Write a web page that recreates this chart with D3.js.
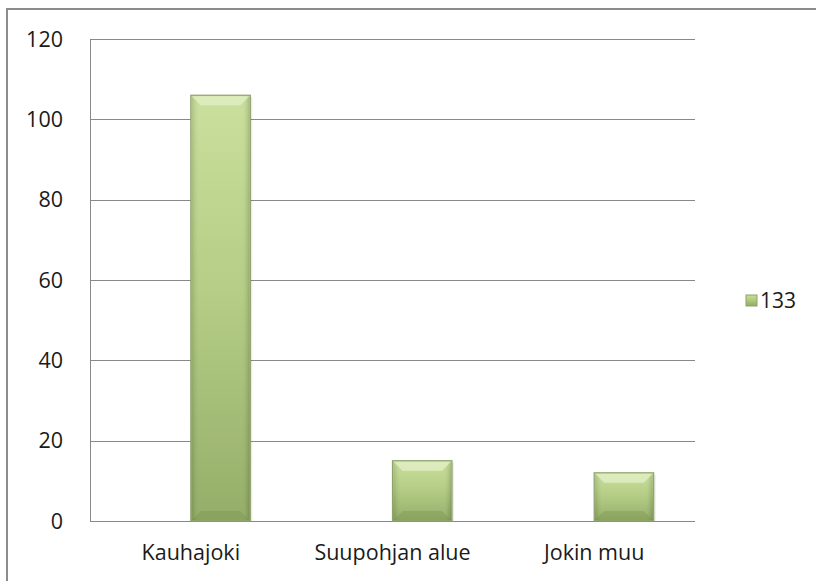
<!DOCTYPE html>
<html>
<head>
<meta charset="utf-8">
<script src="https://cdn.jsdelivr.net/npm/d3@7"></script>
<style>
  body { margin: 0; background: #ffffff; }
  text { font-family: "Open Sans", "Noto Sans", sans-serif; fill: #1a1a1a; }
</style>
</head>
<body>
<script>
// chart data
var categories = ["Kauhajoki", "Suupohjan alue", "Jokin muu"];
var seriesName = "133";
var seriesValues = [106, 15, 12];
var yTicks = [0, 20, 40, 60, 80, 100, 120];

// svg variables
var width = 816;
var height = 581;
var plotLeft = 90;
var plotRight = 695;
var plotTop = 39;
var plotBottom = 521;

var svg = d3.select("body")
  .append("svg")
  .attr("width", width)
  .attr("height", height);

// gradient for the bars
var defs = svg.append("defs");
var grad = defs.append("linearGradient")
  .attr("id", "barGrad")
  .attr("x1", 0).attr("y1", 0)
  .attr("x2", 0).attr("y2", 1);
grad.append("stop").attr("offset", "0%").attr("stop-color", "#c7de98");
grad.append("stop").attr("offset", "45%").attr("stop-color", "#b2cb80");
grad.append("stop").attr("offset", "100%").attr("stop-color", "#8faa62");

var sideGrad = defs.append("linearGradient")
  .attr("id", "sideGrad")
  .attr("x1", 0).attr("y1", 0)
  .attr("x2", 1).attr("y2", 0);
sideGrad.append("stop").attr("offset", "0%").attr("stop-color", "#000").attr("stop-opacity", 0.12);
sideGrad.append("stop").attr("offset", "12%").attr("stop-color", "#fff").attr("stop-opacity", 0.05);
sideGrad.append("stop").attr("offset", "88%").attr("stop-color", "#fff").attr("stop-opacity", 0.05);
sideGrad.append("stop").attr("offset", "100%").attr("stop-color", "#000").attr("stop-opacity", 0.15);

// outer chart border
svg.append("rect")
  .attr("x", 7)
  .attr("y", 9)
  .attr("width", width + 20)
  .attr("height", height + 20)
  .attr("fill", "none")
  .attr("stroke", "#8c8c8c")
  .attr("stroke-width", 2);

// scales
var yScale = d3.scaleLinear()
  .domain([0, 120])
  .range([plotBottom, plotTop]);
var xScale = d3.scaleBand()
  .domain(categories)
  .range([plotLeft, plotRight]);

// gridlines
svg.append("g")
  .selectAll("line")
  .data(yTicks)
  .enter()
  .append("line")
  .attr("x1", plotLeft)
  .attr("x2", plotRight)
  .attr("y1", function(d) { return Math.round(yScale(d)) + 0.5; })
  .attr("y2", function(d) { return Math.round(yScale(d)) + 0.5; })
  .attr("stroke", "#888888")
  .attr("stroke-width", 1);

// y axis line
svg.append("line")
  .attr("x1", plotLeft + 0.5)
  .attr("x2", plotLeft + 0.5)
  .attr("y1", plotTop)
  .attr("y2", plotBottom)
  .attr("stroke", "#888888");

// y tick labels
svg.append("g")
  .selectAll("text")
  .data(yTicks)
  .enter()
  .append("text")
  .attr("x", 63)
  .attr("y", function(d) { return yScale(d); })
  .attr("dy", "0.35em")
  .attr("text-anchor", "end")
  .style("font-size", "21.5px")
  .text(function(d) { return d; });

// x labels
svg.append("g")
  .selectAll("text")
  .data(categories)
  .enter()
  .append("text")
  .attr("x", function(d) { return xScale(d) + xScale.bandwidth() / 2; })
  .attr("y", 560)
  .attr("text-anchor", "middle")
  .style("font-size", "21.5px")
  .text(function(d) { return d; });

// bars sit right of the band centre (second slot of the cluster)
var barWidth = xScale.bandwidth() * 0.295;
var bars = svg.append("g")
  .selectAll("g")
  .data(seriesValues)
  .enter()
  .append("g");

function barX(d, i) { return xScale(categories[i]) + xScale.bandwidth() / 2; }

// shadow
bars.append("rect")
  .attr("x", function(d, i) { return barX(d, i) + 2; })
  .attr("y", function(d) { return yScale(d) + 2; })
  .attr("width", barWidth)
  .attr("height", function(d) { return plotBottom - yScale(d) - 2; })
  .attr("fill", "#000")
  .attr("opacity", 0.08);

bars.append("rect")
  .attr("x", function(d, i) { return barX(d, i); })
  .attr("y", function(d) { return yScale(d); })
  .attr("width", barWidth)
  .attr("height", function(d) { return plotBottom - yScale(d); })
  .attr("fill", "url(#barGrad)")
  .attr("stroke", "#8ea26c")
  .attr("stroke-width", 1.2);

bars.append("rect")
  .attr("x", function(d, i) { return barX(d, i) + 1; })
  .attr("y", function(d) { return yScale(d) + 1; })
  .attr("width", barWidth - 2)
  .attr("height", function(d) { return plotBottom - yScale(d) - 2; })
  .attr("fill", "url(#sideGrad)");

// top bevel
var bevel = 9;
bars.append("polygon")
  .attr("points", function(d, i) {
    var x0 = barX(d, i) + 1, x1 = barX(d, i) + barWidth - 1, y0 = yScale(d) + 1;
    return [[x0, y0], [x1, y0], [x1 - bevel, y0 + bevel], [x0 + bevel, y0 + bevel]].join(" ");
  })
  .attr("fill", "#e4f0c8")
  .attr("opacity", 0.75);

// bottom bevel
bars.append("polygon")
  .attr("points", function(d, i) {
    var x0 = barX(d, i) + 1, x1 = barX(d, i) + barWidth - 1, y1 = plotBottom - 1;
    return [[x0, y1], [x1, y1], [x1 - bevel, y1 - bevel], [x0 + bevel, y1 - bevel]].join(" ");
  })
  .attr("fill", "#6f8a48")
  .attr("opacity", 0.3);

// legend
var legend = svg.append("g")
  .attr("transform", "translate(746, 295)");
legend.append("rect")
  .attr("width", 11)
  .attr("height", 11)
  .attr("fill", "url(#barGrad)")
  .attr("stroke", "#8ea26c");
legend.append("text")
  .attr("x", 14)
  .attr("y", 5.5)
  .attr("dy", "0.36em")
  .style("font-size", "21px")
  .text(seriesName);
</script>
</body>
</html>
